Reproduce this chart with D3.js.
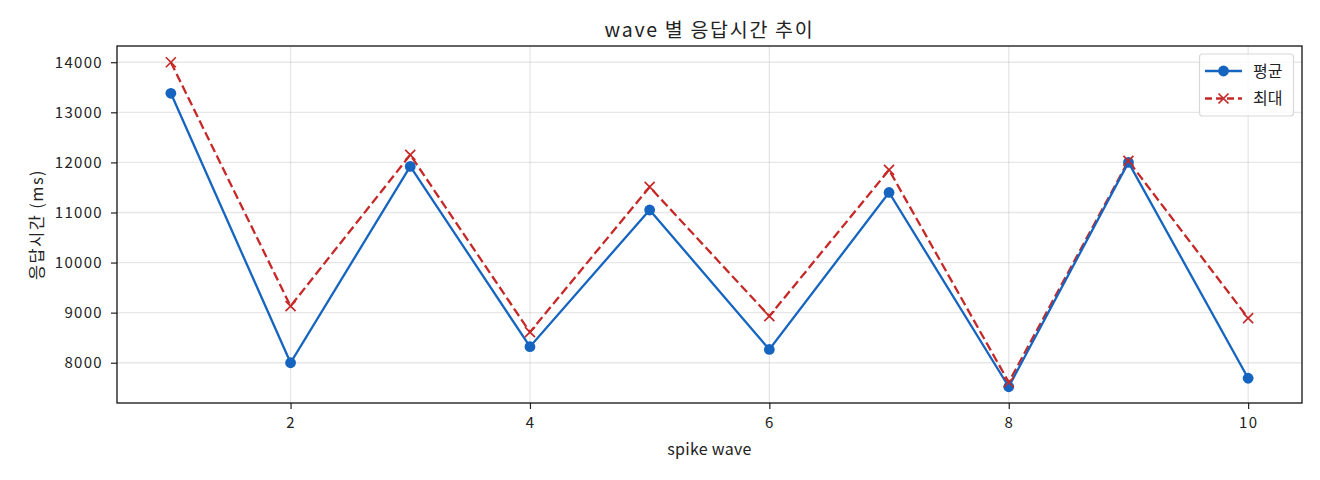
<!DOCTYPE html>
<html><head><meta charset="utf-8">
<script src="https://cdn.jsdelivr.net/npm/d3@7"></script>
<style>
body{margin:0;background:#fff;}
text{font-family:"Noto Sans CJK KR","Noto Sans",sans-serif;fill:#222;}
</style></head>
<body>
<svg id="c" width="1320" height="480"></svg>
<script>
const waves = [1,2,3,4,5,6,7,8,9,10];
const avgMs = [13380,8000,11920,8320,11050,8265,11400,7520,12000,7690];
const maxMs = [14000,9130,12150,8610,11510,8930,11850,7610,12030,8890];
const xTicks = [2,4,6,8,10];
const yTicks = [8000,9000,10000,11000,12000,13000,14000];
const titleText = "wave 별 응답시간 추이";
const xLabel = "spike wave";
const yLabel = "응답시간 (ms)";
const seriesNames = ["평균","최대"];

const blue = "#1565C0", red = "#C62828";
const svg = d3.select("#c");
const L = 117, R = 1302, T = 46, B = 403;

const xExt = d3.extent(waves), xPad = (xExt[1]-xExt[0])*0.05;
const x = d3.scaleLinear().domain([xExt[0]-xPad, xExt[1]+xPad]).range([L, R]);
const all = avgMs.concat(maxMs);
const yExt = d3.extent(all), yPad = (yExt[1]-yExt[0])*0.05;
const y = d3.scaleLinear().domain([yExt[0]-yPad, yExt[1]+yPad]).range([B, T]);

// grid
const g = svg.append("g");
g.selectAll(".gx").data(xTicks).enter().append("line")
  .attr("x1", d=>x(d)).attr("x2", d=>x(d)).attr("y1", T).attr("y2", B)
  .attr("stroke", "#b0b0b0").attr("stroke-opacity", 0.3).attr("stroke-width", 1.3);
g.selectAll(".gy").data(yTicks).enter().append("line")
  .attr("y1", d=>y(d)).attr("y2", d=>y(d)).attr("x1", L).attr("x2", R)
  .attr("stroke", "#b0b0b0").attr("stroke-opacity", 0.3).attr("stroke-width", 1.3);

// axes
const xAxis = d3.axisBottom(x).tickValues(xTicks).tickSize(6).tickPadding(8).tickFormat(d3.format("d"));
const yAxis = d3.axisLeft(y).tickValues(yTicks).tickSize(6).tickPadding(8).tickFormat(d3.format("d"));
const gx = svg.append("g").attr("transform", `translate(0,${B})`).call(xAxis);
const gy = svg.append("g").attr("transform", `translate(${L},0)`).call(yAxis);
[gx, gy].forEach(a => {
  a.attr("font-family", null);
  a.select(".domain").remove();
  a.selectAll("text").style("font-size", "15px")
    .style("letter-spacing", "1.3px").attr("fill", "#222");
  a.selectAll("line").attr("stroke", "#222").attr("stroke-width", 1.2);
});
gx.selectAll("text").attr("dy", "0.75em");

// frame
svg.append("rect").attr("x", L).attr("y", T).attr("width", R-L).attr("height", B-T)
  .attr("fill", "none").attr("stroke", "#111").attr("stroke-width", 1.3);

// lines
const lineGen = d3.line().x((d,i)=>x(waves[i])).y(d=>y(d));
svg.append("path").datum(maxMs).attr("d", lineGen).attr("fill", "none")
  .attr("stroke", red).attr("stroke-width", 2.3).attr("stroke-dasharray", "9,4");
svg.append("path").datum(avgMs).attr("d", lineGen).attr("fill", "none")
  .attr("stroke", blue).attr("stroke-width", 2.3);

// markers
svg.selectAll(".dot").data(avgMs).enter().append("circle")
  .attr("cx", (d,i)=>x(waves[i])).attr("cy", d=>y(d)).attr("r", 5.4).attr("fill", blue);
const s = 5;
svg.selectAll(".xm").data(maxMs).enter().append("path")
  .attr("transform", (d,i)=>`translate(${x(waves[i])},${y(d)})`)
  .attr("d", `M${-s},${-s}L${s},${s}M${-s},${s}L${s},${-s}`)
  .attr("stroke", red).attr("stroke-width", 1.7).attr("fill", "none");

// title and labels
svg.append("text").attr("x", (L+R)/2).attr("y", 37).attr("text-anchor", "middle")
  .style("font-size", "19.5px").style("letter-spacing", "1.7px").text(titleText);
svg.append("text").attr("x", (L+R)/2).attr("y", 455).attr("text-anchor", "middle")
  .style("font-size", "16px").style("letter-spacing", "0.3px").text(xLabel);
svg.append("text").attr("transform", `translate(43,${(T+B)/2}) rotate(-90)`).attr("text-anchor", "middle")
  .style("font-size", "16.5px").style("letter-spacing", "1.4px").text(yLabel);

// legend
const lg = svg.append("g");
lg.append("rect").attr("x", 1199.5).attr("y", 54).attr("width", 94).attr("height", 62).attr("rx", 3)
  .attr("fill", "#fff").attr("fill-opacity", 0.8).attr("stroke", "#d8d8d8").attr("stroke-width", 1.2);
const items = [{c: blue, dash: null, m: "o"}, {c: red, dash: "7,4", m: "x"}];
items.forEach((it, i) => {
  const yy = 71 + i*27.5;
  lg.append("line").attr("x1", 1205).attr("x2", 1242).attr("y1", yy).attr("y2", yy)
    .attr("stroke", it.c).attr("stroke-width", 2.3).attr("stroke-dasharray", it.dash);
  if (it.m === "o") lg.append("circle").attr("cx", 1223.5).attr("cy", yy).attr("r", 5.4).attr("fill", it.c);
  else lg.append("path").attr("d", `M${1223.5-s},${yy-s}L${1223.5+s},${yy+s}M${1223.5-s},${yy+s}L${1223.5+s},${yy-s}`)
    .attr("stroke", it.c).attr("stroke-width", 1.7);
  lg.append("text").attr("x", 1253).attr("y", yy+5.5).style("font-size", "16px").text(seriesNames[i]);
});
</script>
</body></html>
